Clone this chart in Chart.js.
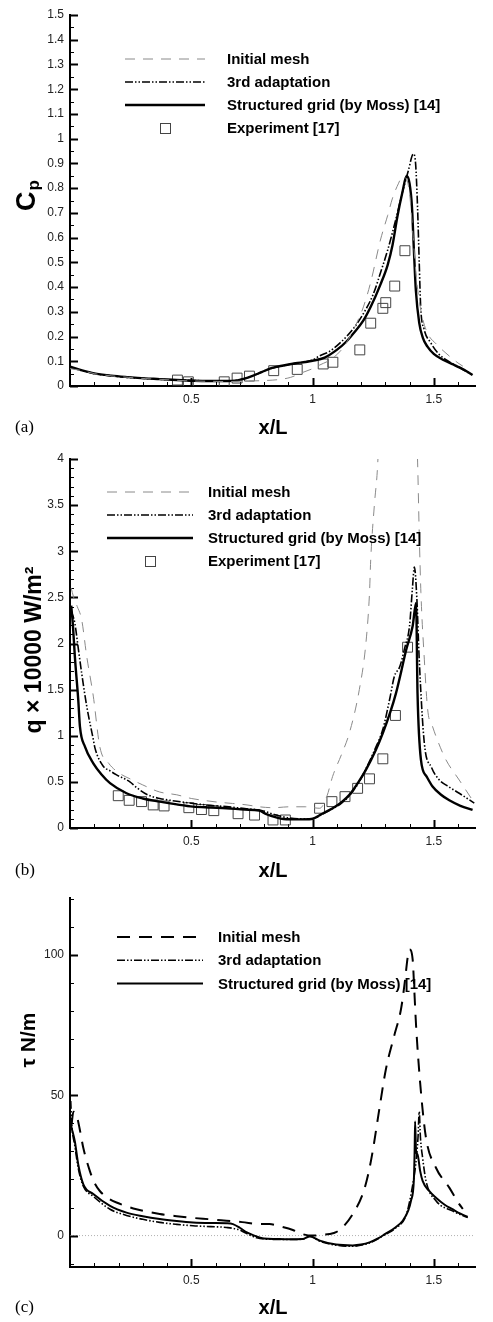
<!DOCTYPE html>
<html>
<head>
<meta charset="utf-8">
<script src="https://cdn.jsdelivr.net/npm/chart.js@4.4.1/dist/chart.umd.min.js"></script>
<style>
  body { margin: 0; background: #fff; width: 493px; height: 1322px; position: relative; overflow: hidden; }
  canvas { position: absolute; left: 0; }
</style>
</head>
<body>
<canvas id="cpChart" width="493" height="445" style="top:0px"></canvas>
<canvas id="qChart" width="493" height="440" style="top:445px"></canvas>
<canvas id="tauChart" width="493" height="437" style="top:885px"></canvas>
<script>
// ---- tick labels ----
const xTickLabels = [0.5, 1, 1.5];
const cpTicks = [0, 0.1, 0.2, 0.3, 0.4, 0.5, 0.6, 0.7, 0.8, 0.9, 1, 1.1, 1.2, 1.3, 1.4, 1.5];
const qTicks = [0, 0.5, 1, 1.5, 2, 2.5, 3, 3.5, 4];
const tauTicks = [0, 50, 100];

const legendLabels = ["Initial mesh", "3rd adaptation", "Structured grid (by Moss) [14]", "Experiment [17]"];

// ---- (a) pressure coefficient, [x/L, Cp] ----
const cpInitial = [
  [0, 0.07], [0.05, 0.062], [0.1, 0.05], [0.17, 0.041], [0.24, 0.035], [0.31, 0.03], [0.37, 0.027],
  [0.44, 0.023], [0.51, 0.02], [0.58, 0.019], [0.65, 0.018], [0.73, 0.02], [0.8, 0.022], [0.86, 0.026],
  [0.91, 0.035], [0.96, 0.055], [1.0, 0.07], [1.03, 0.085], [1.08, 0.11], [1.13, 0.16], [1.18, 0.25],
  [1.21, 0.32], [1.24, 0.42], [1.28, 0.59], [1.31, 0.69], [1.33, 0.76], [1.355, 0.82], [1.37, 0.846],
  [1.385, 0.84], [1.4, 0.78], [1.415, 0.6], [1.43, 0.42], [1.45, 0.29], [1.474, 0.214], [1.51, 0.17],
  [1.55, 0.133], [1.6, 0.093], [1.62, 0.08]
];
const cpAdapt = [
  [0, 0.075], [0.05, 0.062], [0.1, 0.05], [0.17, 0.041], [0.24, 0.035], [0.31, 0.03], [0.37, 0.027],
  [0.44, 0.024], [0.51, 0.022], [0.58, 0.021], [0.65, 0.021], [0.7, 0.025], [0.74, 0.036], [0.78, 0.052],
  [0.82, 0.068], [0.87, 0.08], [0.92, 0.09], [0.97, 0.097], [1.0, 0.105], [1.03, 0.122], [1.07, 0.14],
  [1.12, 0.18], [1.17, 0.234], [1.22, 0.31], [1.25, 0.37], [1.28, 0.457], [1.31, 0.55], [1.34, 0.66],
  [1.37, 0.78], [1.395, 0.87], [1.416, 0.938], [1.425, 0.9], [1.433, 0.725], [1.44, 0.5], [1.446, 0.32],
  [1.46, 0.23], [1.488, 0.174], [1.52, 0.13], [1.56, 0.1], [1.61, 0.073], [1.66, 0.044]
];
const cpStructured = [
  [0, 0.078], [0.05, 0.063], [0.1, 0.051], [0.17, 0.042], [0.24, 0.036], [0.31, 0.031], [0.37, 0.028],
  [0.44, 0.024], [0.51, 0.021], [0.58, 0.02], [0.65, 0.02], [0.69, 0.023], [0.72, 0.03], [0.75, 0.04],
  [0.79, 0.056], [0.83, 0.072], [0.88, 0.083], [0.93, 0.092], [0.97, 0.097], [1.0, 0.102], [1.05, 0.115],
  [1.1, 0.146], [1.14, 0.18], [1.17, 0.214], [1.21, 0.265], [1.24, 0.32], [1.28, 0.41], [1.31, 0.49],
  [1.33, 0.57], [1.35, 0.685], [1.37, 0.78], [1.388, 0.849], [1.4, 0.82], [1.41, 0.725], [1.418, 0.55],
  [1.426, 0.388], [1.44, 0.255], [1.455, 0.195], [1.474, 0.159], [1.5, 0.13], [1.54, 0.105], [1.58, 0.087],
  [1.61, 0.073], [1.635, 0.06], [1.66, 0.044]
];
const cpExperiment = [
  [0.443, 0.024], [0.488, 0.017], [0.636, 0.017], [0.689, 0.032], [0.74, 0.04], [0.84, 0.062],
  [0.937, 0.067], [1.044, 0.089], [1.084, 0.096], [1.195, 0.146], [1.24, 0.254], [1.29, 0.314],
  [1.302, 0.337], [1.339, 0.404], [1.381, 0.547]
];

// ---- (b) heat flux, [x/L, q x 1e-4] ----
const qInitial = [
  [0.005, 2.6], [0.014, 2.51], [0.03, 2.4], [0.048, 2.26], [0.069, 1.86], [0.096, 1.43], [0.123, 0.88],
  [0.16, 0.7], [0.206, 0.59], [0.25, 0.53], [0.3, 0.467], [0.37, 0.39], [0.44, 0.36], [0.5, 0.32],
  [0.55, 0.3], [0.61, 0.28], [0.67, 0.266], [0.73, 0.25], [0.78, 0.23], [0.84, 0.22], [0.905, 0.23],
  [0.97, 0.23], [1.03, 0.214], [1.06, 0.35], [1.083, 0.56], [1.12, 0.8], [1.152, 1.03], [1.193, 1.5],
  [1.22, 2.0], [1.235, 2.55], [1.24, 2.91], [1.255, 3.5], [1.269, 3.96], [1.29, 5.5], [1.35, 7],
  [1.41, 5.5], [1.433, 4.0], [1.44, 3.2], [1.447, 2.55], [1.461, 1.83], [1.475, 1.28], [1.495, 1.1],
  [1.52, 0.92], [1.55, 0.74], [1.605, 0.52], [1.66, 0.3]
];
const qAdapt = [
  [0.005, 2.35], [0.012, 2.3], [0.02, 2.22], [0.034, 1.95], [0.048, 1.68], [0.069, 1.32], [0.096, 0.96],
  [0.103, 0.866], [0.137, 0.67], [0.165, 0.62], [0.192, 0.576], [0.247, 0.5], [0.274, 0.44], [0.32, 0.36],
  [0.37, 0.32], [0.44, 0.29], [0.507, 0.266], [0.58, 0.245], [0.645, 0.232], [0.72, 0.21], [0.79, 0.19],
  [0.85, 0.14], [0.9, 0.11], [0.95, 0.1], [1.0, 0.1], [1.04, 0.15], [1.083, 0.21], [1.12, 0.27],
  [1.152, 0.35], [1.19, 0.49], [1.22, 0.64], [1.26, 0.87], [1.29, 1.07], [1.32, 1.42], [1.337, 1.64],
  [1.36, 1.75], [1.38, 1.95], [1.4, 2.19], [1.412, 2.6], [1.42, 2.83], [1.43, 2.5], [1.44, 1.83],
  [1.461, 0.92], [1.49, 0.66], [1.523, 0.52], [1.56, 0.45], [1.605, 0.377], [1.667, 0.27]
];
const qStructured = [
  [0.005, 2.41], [0.012, 2.2], [0.02, 1.86], [0.034, 1.39], [0.041, 1.1], [0.062, 0.88], [0.096, 0.7],
  [0.13, 0.58], [0.165, 0.486], [0.233, 0.377], [0.3, 0.32], [0.37, 0.286], [0.44, 0.256], [0.507, 0.232],
  [0.58, 0.222], [0.645, 0.214], [0.72, 0.2], [0.78, 0.188], [0.81, 0.15], [0.85, 0.115], [0.88, 0.098],
  [0.95, 0.094], [0.995, 0.098], [1.04, 0.155], [1.083, 0.214], [1.12, 0.28], [1.152, 0.359], [1.19, 0.5],
  [1.22, 0.63], [1.26, 0.84], [1.29, 1.03], [1.32, 1.25], [1.344, 1.46], [1.366, 1.7], [1.386, 1.93],
  [1.413, 2.19], [1.427, 2.44], [1.433, 1.46], [1.447, 0.74], [1.47, 0.56], [1.495, 0.45], [1.53, 0.36],
  [1.564, 0.3], [1.61, 0.24], [1.66, 0.196]
];
const qExperiment = [
  [0.199, 0.35], [0.244, 0.3], [0.295, 0.286], [0.343, 0.25], [0.388, 0.239], [0.49, 0.22], [0.542, 0.2],
  [0.593, 0.188], [0.693, 0.155], [0.761, 0.14], [0.837, 0.087], [0.888, 0.087], [1.029, 0.214],
  [1.08, 0.286], [1.134, 0.34], [1.186, 0.43], [1.235, 0.533], [1.29, 0.75], [1.342, 1.22], [1.392, 1.96]
];

// ---- (c) shear stress, [x/L, tau] ----
const tauInitial = [
  [0.007, 40], [0.014, 44.2], [0.027, 43], [0.04, 38], [0.055, 31.2], [0.082, 23], [0.1, 19], [0.123, 15.9],
  [0.16, 13.2], [0.192, 11.8], [0.274, 9.4], [0.37, 7.7], [0.44, 6.9], [0.507, 6.3], [0.58, 5.8],
  [0.645, 5.3], [0.71, 4.8], [0.78, 4.1], [0.823, 4.1], [0.87, 3.2], [0.919, 2.0], [0.96, 0.5], [1.0, 0],
  [1.03, 0.2], [1.07, 0.6], [1.097, 1.2], [1.13, 3.5], [1.166, 7.7], [1.207, 14.8], [1.23, 22], [1.248, 30],
  [1.276, 45.4], [1.303, 59.5], [1.337, 71.3], [1.365, 80.8], [1.38, 90], [1.393, 99.6], [1.4, 102],
  [1.413, 98.4], [1.42, 87], [1.427, 74.9], [1.447, 51.3], [1.468, 34.8], [1.509, 24.2], [1.564, 17.1],
  [1.605, 11.2], [1.62, 9.5]
];
const tauAdapt = [
  [0.003, 48], [0.007, 40], [0.02, 32], [0.034, 24], [0.055, 17.6], [0.096, 14], [0.165, 9.4], [0.233, 7.2],
  [0.3, 5.8], [0.37, 4.7], [0.44, 4.0], [0.507, 3.5], [0.58, 3.2], [0.645, 2.9], [0.7, 2.0], [0.727, 0.8],
  [0.77, -0.8], [0.82, -1.3], [0.9, -1.4], [0.96, -1.3], [0.99, -0.3], [1.03, -2], [1.097, -3.4],
  [1.166, -3.8], [1.235, -2.6], [1.3, 0.4], [1.34, 2.5], [1.385, 7], [1.4, 12], [1.413, 18], [1.425, 25],
  [1.435, 35], [1.44, 44.2], [1.445, 35], [1.454, 27.7], [1.468, 19.5], [1.509, 12.4], [1.577, 8.8],
  [1.64, 6.4]
];
const tauStructured = [
  [0.003, 40], [0.007, 38.3], [0.02, 33.6], [0.034, 25.4], [0.055, 18.3], [0.096, 14.8], [0.165, 10.6],
  [0.233, 8.2], [0.3, 6.9], [0.37, 5.9], [0.44, 5.2], [0.507, 4.7], [0.58, 4.5], [0.645, 4.4], [0.672, 4.1],
  [0.7, 2.8], [0.727, 1.2], [0.76, 0], [0.8, -1.0], [0.85, -1.2], [0.9, -1.3], [0.96, -1.2], [0.988, -0.2],
  [1.03, -1.8], [1.097, -3.2], [1.166, -3.5], [1.2, -3.2], [1.235, -2.4], [1.27, -1.0], [1.3, 0.6],
  [1.34, 2.8], [1.372, 5.3], [1.395, 9], [1.406, 12.4], [1.418, 20], [1.421, 30], [1.423, 40.7],
  [1.427, 30], [1.433, 28.9], [1.444, 23], [1.454, 19.5], [1.48, 16], [1.509, 13.5], [1.545, 11],
  [1.577, 9.4], [1.61, 7.8], [1.64, 6.7]
];

const SANS = "'Liberation Sans', Arial, sans-serif";

function lineSet(label, pts, style) {
  return Object.assign({
    label,
    data: pts.map(([x, y]) => ({ x, y })),
    pointRadius: 0,
    borderColor: "#000",
    backgroundColor: "rgba(0,0,0,0)",
    fill: false,
    cubicInterpolationMode: "monotone",
  }, style);
}

const greyDash = { borderColor: "#8a8a8a", borderWidth: 1, borderDash: [10, 8] };
const blackDash = { borderColor: "#000", borderWidth: 2, borderDash: [13, 9] };
const dashDotDot = { borderColor: "#000", borderWidth: 1.6, borderDash: [8, 2, 1.5, 2, 1.5, 2] };
const solidThick = { borderColor: "#000", borderWidth: 2.4 };
const solidMid = { borderColor: "#000", borderWidth: 2 };
const squares = {
  showLine: false, pointStyle: "rect", pointRadius: 7, pointBorderWidth: 1,
  pointBorderColor: "#444", pointBackgroundColor: "rgba(0,0,0,0)", borderColor: "#444",
};

// inward tick marks, zero line, legend, axis titles
const panelDecor = {
  id: "panelDecor",
  beforeDatasetsDraw(chart, args, o) {
    const ctx = chart.ctx, area = chart.chartArea;
    const xs = chart.scales.x, ys = chart.scales.y;
    ctx.save();
    if (o.zeroLine) {
      const y0 = ys.getPixelForValue(0);
      ctx.strokeStyle = "#b0b0b0";
      ctx.lineWidth = 1;
      ctx.setLineDash([1, 2]);
      ctx.beginPath();
      ctx.moveTo(area.left, y0);
      ctx.lineTo(area.right, y0);
      ctx.stroke();
      ctx.setLineDash([]);
    }
    ctx.strokeStyle = "#000";
    for (let i = 1; i * o.xStep <= xs.max + 1e-9; i++) {
      const v = i * o.xStep;
      const major = xTickLabels.some(t => Math.abs(t - v) < 1e-6);
      const px = Math.round(xs.getPixelForValue(v)) + 0.5;
      ctx.lineWidth = major ? 2 : 1;
      ctx.beginPath();
      ctx.moveTo(px, area.bottom);
      ctx.lineTo(px, area.bottom - (major ? 8 : 4));
      ctx.stroke();
    }
    for (let i = Math.ceil(ys.min / o.yStep); i * o.yStep <= ys.max + 1e-9; i++) {
      const v = i * o.yStep;
      const major = ys.ticks.some(t => Math.abs(t.value - v) < 1e-6);
      const py = Math.round(ys.getPixelForValue(v)) + 0.5;
      ctx.lineWidth = major ? 2 : 1;
      ctx.beginPath();
      ctx.moveTo(area.left, py);
      ctx.lineTo(area.left + (major ? 8 : 4), py);
      ctx.stroke();
    }
    ctx.restore();
  },
  afterDraw(chart, args, o) {
    const ctx = chart.ctx;
    ctx.save();
    // legend
    const lg = o.legend;
    chart.data.datasets.forEach((ds, i) => {
      const y = lg.y0 + i * lg.dy;
      if (ds.showLine === false) {
        const s = 10, cx = (lg.x0 + lg.x1) / 2;
        ctx.strokeStyle = ds.pointBorderColor;
        ctx.lineWidth = 1;
        ctx.strokeRect(Math.round(cx - s / 2) + 0.5, Math.round(y - s / 2) + 0.5, s, s);
      } else {
        ctx.strokeStyle = ds.borderColor;
        ctx.lineWidth = ds.borderWidth;
        ctx.setLineDash(ds.borderDash || []);
        ctx.beginPath();
        ctx.moveTo(lg.x0, y);
        ctx.lineTo(lg.x1, y);
        ctx.stroke();
        ctx.setLineDash([]);
      }
      ctx.fillStyle = "#000";
      ctx.font = "bold 15px " + SANS;
      ctx.textBaseline = "middle";
      ctx.textAlign = "left";
      ctx.fillText(ds.label, lg.tx, y + 1);
    });
    // x title and panel letter
    ctx.fillStyle = "#000";
    ctx.textBaseline = "middle";
    ctx.font = "bold 20px " + SANS;
    ctx.textAlign = "center";
    ctx.fillText("x/L", 273, o.xTitleY);
    ctx.font = "17px 'Liberation Serif', 'Times New Roman', serif";
    ctx.textAlign = "left";
    ctx.fillText(o.letter, 15, o.xTitleY);
    // y title, rotated
    ctx.translate(o.yTitleX, o.yTitleY);
    ctx.rotate(-Math.PI / 2);
    ctx.font = "bold " + o.yTitleSize + "px " + SANS;
    const w1 = ctx.measureText(o.yTitle).width;
    let w2 = 0;
    if (o.ySub) {
      ctx.font = "bold " + o.ySubSize + "px " + SANS;
      w2 = ctx.measureText(o.ySub).width;
    }
    const start = -(w1 + w2) / 2;
    ctx.textAlign = "left";
    ctx.font = "bold " + o.yTitleSize + "px " + SANS;
    ctx.fillText(o.yTitle, start, 0);
    if (o.ySub) {
      ctx.font = "bold " + o.ySubSize + "px " + SANS;
      ctx.fillText(o.ySub, start + w1 + 1, 6);
    }
    ctx.restore();
  },
};

function makePanel(canvasId, cfg) {
  const canvas = document.getElementById(canvasId);
  return new Chart(canvas.getContext("2d"), {
    type: "line",
    plugins: [panelDecor],
    data: { datasets: cfg.datasets },
    options: {
      responsive: false,
      animation: false,
      events: [],
      layout: { padding: { top: cfg.top, right: 18, left: 0, bottom: 0 } },
      plugins: {
        legend: { display: false },
        tooltip: { enabled: false },
        panelDecor: cfg.decor,
      },
      scales: {
        x: {
          type: "linear",
          min: 0,
          max: 1.67,
          afterBuildTicks: s => { s.ticks = xTickLabels.map(v => ({ value: v })); },
          afterFit: s => { s.height = canvas.height - cfg.bottom; },
          grid: { display: false, drawTicks: false },
          border: { display: true, color: "#000", width: 2 },
          ticks: {
            autoSkip: false,
            maxRotation: 0,
            padding: 6,
            color: "#222",
            font: { size: 12, family: SANS },
            callback: v => String(+v.toFixed(2)),
          },
        },
        y: {
          type: "linear",
          min: cfg.yMin,
          max: cfg.yMax,
          afterBuildTicks: s => { s.ticks = cfg.yTicks.map(v => ({ value: v })); },
          afterFit: s => { s.width = 70; },
          grid: { display: false, drawTicks: false },
          border: { display: true, color: "#000", width: 2 },
          ticks: {
            autoSkip: false,
            padding: 6,
            color: "#222",
            font: { size: 12, family: SANS },
            callback: v => String(+v.toFixed(2)),
          },
        },
      },
    },
  });
}

makePanel("cpChart", {
  top: 15, bottom: 386, yMin: 0, yMax: 1.5, yTicks: cpTicks,
  datasets: [
    lineSet(legendLabels[0], cpInitial, greyDash),
    lineSet(legendLabels[1], cpAdapt, dashDotDot),
    lineSet(legendLabels[2], cpStructured, solidThick),
    lineSet(legendLabels[3], cpExperiment, squares),
  ],
  decor: {
    xStep: 0.1, yStep: 0.05, zeroLine: false,
    legend: { x0: 125, x1: 205, tx: 227, y0: 59, dy: 23 },
    xTitleY: 428, letter: "(a)",
    yTitleX: 28, yTitleY: 196, yTitle: "C", yTitleSize: 27, ySub: "p", ySubSize: 17,
  },
});

makePanel("qChart", {
  top: 14, bottom: 383, yMin: 0, yMax: 4, yTicks: qTicks,
  datasets: [
    lineSet(legendLabels[0], qInitial, greyDash),
    lineSet(legendLabels[1], qAdapt, dashDotDot),
    lineSet(legendLabels[2], qStructured, solidThick),
    lineSet(legendLabels[3], qExperiment, squares),
  ],
  decor: {
    xStep: 0.1, yStep: 0.1, zeroLine: false,
    legend: { x0: 107, x1: 193, tx: 208, y0: 47, dy: 23 },
    xTitleY: 426, letter: "(b)",
    yTitleX: 35, yTitleY: 205, yTitle: "q \u00d7 10000 W/m\u00b2", yTitleSize: 23,
  },
});

makePanel("tauChart", {
  top: 10, bottom: 382, yMin: -11.2, yMax: 120.3, yTicks: tauTicks,
  datasets: [
    lineSet(legendLabels[0], tauInitial, blackDash),
    lineSet(legendLabels[1], tauAdapt, dashDotDot),
    lineSet(legendLabels[2], tauStructured, solidMid),
  ],
  decor: {
    xStep: 0.1, yStep: 10, zeroLine: true,
    legend: { x0: 117, x1: 203, tx: 218, y0: 52, dy: 23.3 },
    xTitleY: 423, letter: "(c)",
    yTitleX: 29, yTitleY: 155, yTitle: "\u03c4 N/m", yTitleSize: 21,
  },
});
</script>
</body>
</html>
